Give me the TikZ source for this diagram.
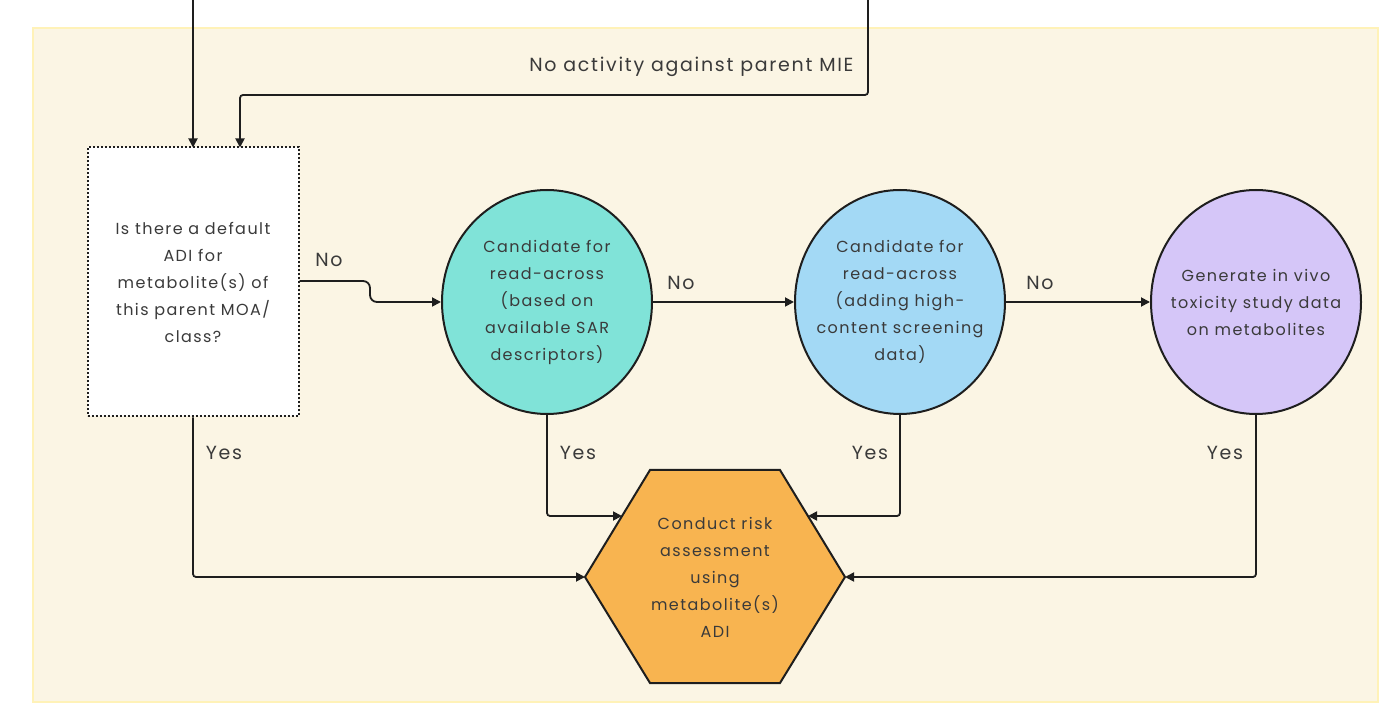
\documentclass[tikz,border=0pt]{standalone}
\usepackage{fontspec}
\setmainfont{Poppins}[LetterSpace=9]
\usetikzlibrary{shapes.geometric,arrows.meta}
\definecolor{panel}{HTML}{FBF5E4}
\definecolor{panelborder}{HTML}{FFF2B8}
\definecolor{teal}{HTML}{80E3D8}
\definecolor{skyb}{HTML}{A3D9F5}
\definecolor{lav}{HTML}{D5C6F8}
\definecolor{orng}{HTML}{F8B450}
\definecolor{txt}{HTML}{3A3A3A}
\definecolor{ln}{HTML}{1E1E1E}
\tikzset{
  every node/.style={font=\fontsize{16}{27}\selectfont, text=txt},
  conn/.style={draw=ln, line width=1.8pt, rounded corners=3pt, -{Triangle[length=9pt,width=9pt]}},
  decbox/.style={draw=ln, line width=2pt, dash pattern=on 2pt off 2pt, fill=white, minimum width=211pt, minimum height=269pt, align=center, inner sep=0pt},
  blob/.style={ellipse, draw=ln, line width=2pt, minimum width=210pt, minimum height=224pt, align=center, inner sep=-40pt},
  lbl/.style={font=\fontsize{19}{21}\selectfont, text=txt}
}
\begin{document}
\begin{tikzpicture}[x=1pt,y=-1pt]
\useasboundingbox (0,0) rectangle (1382,708);
\fill[white] (0,0) rectangle (1382,708);
\draw[fill=panel, draw=panelborder, line width=2pt] (33,28) rectangle (1378,702);

% nodes
\node[decbox] (q) at (193,282) {Is there a default\\ADI for\\metabolite(s) of\\this parent MOA/\\class?};
\node[blob, fill=teal] (c1) at (547,302) {Candidate for\\read-across\\(based on\\available SAR\\descriptors)};
\node[blob, fill=skyb] (c2) at (900,302) {Candidate for\\read-across\\(adding high-\\content screening\\data)};
\node[blob, fill=lav] (c3) at (1256,302) {Generate in vivo\\toxicity study data\\on metabolites};

% hexagon
\coordinate (hL) at (585,577);
\coordinate (hR) at (845,577);
\coordinate (hUL) at (622,516);
\coordinate (hUR) at (808,516);
\draw[fill=orng, draw=ln, line width=2pt] (585,577) -- (650,470) -- (780,470) -- (845,577) -- (780,683) -- (650,683) -- cycle;
\node[align=center] (hex) at (715,577) {Conduct risk\\assessment\\using\\metabolite(s)\\ADI};

% top incoming connectors
\coordinate (in1) at (193,0);
\coordinate (in2) at (868,0);
\coordinate (qt1) at (193,147.5);
\coordinate (qt2) at (240,147.5);
\draw[conn] (in1) -- (qt1);
\draw[conn] (in2) -- (868,95) -- (240,95) -- (qt2);
\node[lbl, anchor=east] (mie) at (857,67) {No activity against parent MIE};

% No connectors
\draw[conn, rounded corners=7pt] (q.east |- 0,281) -- (370,281) -- (370,302) -- (c1.west);
\node[lbl] (no1) at (329,260) {No};
\draw[conn] (c1.east) -- (c2.west);
\node[lbl] (no2) at (681,283) {No};
\draw[conn] (c2.east) -- (c3.west);
\node[lbl] (no3) at (1040,283) {No};

% Yes connectors
\draw[conn] (q.south) -- (193,577) -- (hL);
\node[lbl] (y1) at (224,453) {Yes};
\draw[conn] (c1.south) -- (547,516) -- (hUL);
\node[lbl] (y2) at (578,453) {Yes};
\draw[conn] (c2.south) -- (900,516) -- (hUR);
\node[lbl] (y3) at (870,453) {Yes};
\draw[conn] (c3.south) -- (1256,577) -- (hR);
\node[lbl] (y4) at (1225,453) {Yes};
\end{tikzpicture}
\end{document}
